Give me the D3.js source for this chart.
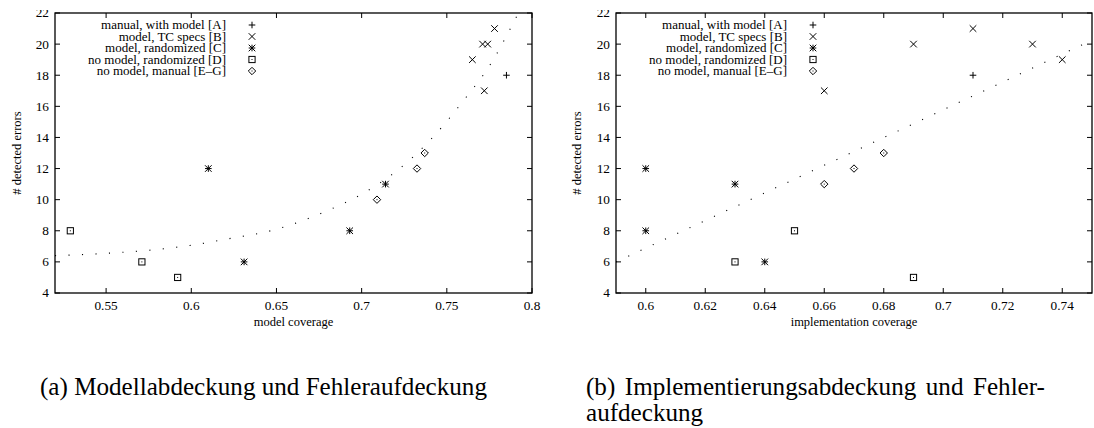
<!DOCTYPE html>
<html>
<head>
<meta charset="utf-8">
<script src="https://cdn.jsdelivr.net/npm/d3@7"></script>
<style>
  body { margin: 0; background: #fff; }
  svg { display: block; }
  text { font-family: "Liberation Serif", "DejaVu Serif", serif; }
</style>
</head>
<body>
<div id="plots"></div>
<script>
// Two scatter plots of detected errors against coverage, with fit curves.

// ---- data ----
const legendLabels = ["manual, with model [A]", "model, TC specs [B]", "model, randomized [C]",
    "no model, randomized [D]", "no model, manual [E\u2013G]"];
const legendSymbols = ["plus", "cross", "star", "square", "diamond"];

// (a) model coverage
const modelA = [[0.785, 18]];
const modelB = [[0.778, 21], [0.771, 20], [0.774, 20], [0.765, 19], [0.772, 17]];
const modelC = [[0.61, 12], [0.631, 6], [0.693, 8], [0.714, 11]];
const modelD = [[0.529, 8], [0.571, 6], [0.592, 5]];
const modelEG = [[0.709, 10], [0.7325, 12], [0.737, 13]];
const modelFit = [[0.52, 6.4], [0.55, 6.55], [0.58, 6.8], [0.60, 7.07], [0.62, 7.45], [0.65, 8.1],
    [0.68, 9.3], [0.70, 10.35], [0.72, 11.8], [0.74, 13.8], [0.76, 16.4], [0.775, 18.6], [0.792, 22]];
const modelTicks = [0.55, 0.6, 0.65, 0.7, 0.75, 0.8];

// (b) implementation coverage
const implA = [[0.71, 18]];
const implB = [[0.71, 21], [0.69, 20], [0.73, 20], [0.74, 19], [0.66, 17]];
const implC = [[0.6, 12], [0.6, 8], [0.63, 11], [0.64, 6]];
const implD = [[0.63, 6], [0.65, 8], [0.69, 5]];
const implEG = [[0.66, 11], [0.67, 12], [0.68, 13]];
const implFit = [[0.59, 6.0], [0.67, 13.1], [0.75, 20.25]];
const implTicks = [0.6, 0.62, 0.64, 0.66, 0.68, 0.7, 0.72, 0.74];

const yTicks = [4, 6, 8, 10, 12, 14, 16, 18, 20, 22];

const captionA = "(a) Modellabdeckung und Fehleraufdeckung";
const captionB1 = "(b) Implementierungsabdeckung und Fehler-";
const captionB2 = "aufdeckung";

// ---- page ----
const W = 1094, H = 428;

const svg = d3.select("#plots").append("svg")
    .attr("width", W).attr("height", H);

svg.append("rect").attr("width", W).attr("height", H).attr("fill", "#fff");

// the original figure is cut off a little at the top
svg.append("clipPath").attr("id", "pageclip")
    .append("rect").attr("x", 0).attr("y", 10).attr("width", W).attr("height", H - 10);

// draw one marker of the given kind at (x,y)
function drawMarker(g, kind, x, y) {
    const s = 3.3;
    let el;
    if (kind == "plus") {
        el = g.append("path").attr("d", `M${x - s},${y}H${x + s}M${x},${y - s}V${y + s}`);
    } else if (kind == "cross") {
        el = g.append("path").attr("d", `M${x - s},${y - s}L${x + s},${y + s}M${x - s},${y + s}L${x + s},${y - s}`);
    } else if (kind == "star") {
        el = g.append("path").attr("d", `M${x - s},${y}H${x + s}M${x},${y - s}V${y + s}` +
            `M${x - s},${y - s}L${x + s},${y + s}M${x - s},${y + s}L${x + s},${y - s}`);
    } else if (kind == "square") {
        el = g.append("rect").attr("x", x - s + 0.2).attr("y", y - s + 0.2)
            .attr("width", 2 * s - 0.4).attr("height", 2 * s - 0.4);
        g.append("rect").attr("x", x - 0.5).attr("y", y - 0.5).attr("width", 1).attr("height", 1).attr("fill", "#000");
    } else if (kind == "diamond") {
        const d = s + 0.4;
        el = g.append("path").attr("d", `M${x},${y - d}L${x + d},${y}L${x},${y + d}L${x - d},${y}Z`);
        g.append("rect").attr("x", x - 0.5).attr("y", y - 0.5).attr("width", 1).attr("height", 1).attr("fill", "#000");
    }
    el.attr("stroke", "#000").attr("stroke-width", 1).attr("fill", "none");
}

// one gnuplot-style panel
function drawPanel(opt) {
    const g = svg.append("g").attr("clip-path", "url(#pageclip)");
    const left = opt.left, right = opt.right, top = 13, bottom = 293;

    const x = d3.scaleLinear().domain(opt.xDomain).range([left, right]);
    const y = d3.scaleLinear().domain([4, 22]).range([bottom, top]);
    const tl = 5;

    // ticks on all four sides, pointing inward
    const ticks = g.append("g").attr("stroke", "#000").attr("stroke-width", 1);
    opt.xTicks.forEach(function (t) {
        ticks.append("line").attr("x1", x(t)).attr("x2", x(t)).attr("y1", bottom).attr("y2", bottom - tl);
        ticks.append("line").attr("x1", x(t)).attr("x2", x(t)).attr("y1", top).attr("y2", top + tl);
    });
    yTicks.forEach(function (t) {
        ticks.append("line").attr("x1", left).attr("x2", left + tl).attr("y1", y(t)).attr("y2", y(t));
        ticks.append("line").attr("x1", right).attr("x2", right - tl).attr("y1", y(t)).attr("y2", y(t));
    });

    // tick labels
    g.selectAll(null).data(opt.xTicks).join("text")
        .attr("x", d => x(d)).attr("y", bottom + 17)
        .attr("text-anchor", "middle").attr("font-size", 13.3)
        .text(d => String(d));
    g.selectAll(null).data(yTicks).join("text")
        .attr("x", left - 6).attr("y", d => y(d)).attr("dy", "0.33em")
        .attr("text-anchor", "end").attr("font-size", 13.3)
        .text(d => String(d));

    // axis labels
    g.append("text").attr("x", (left + right) / 2).attr("y", 326)
        .attr("text-anchor", "middle").attr("font-size", 12.5).text(opt.xLabel);
    g.append("text")
        .attr("transform", `translate(${opt.yLabelX},${(top + bottom) / 2}) rotate(-90)`)
        .attr("text-anchor", "middle").attr("dy", "0.33em").attr("font-size", 12.5)
        .text("# detected errors");

    // fit curve, dotted, clipped to the plot area
    const cid = "clip" + opt.id;
    g.append("clipPath").attr("id", cid).append("rect")
        .attr("x", left).attr("y", top).attr("width", right - left).attr("height", bottom - top);
    const line = d3.line().x(d => x(d[0])).y(d => y(d[1])).curve(d3.curveMonotoneX);
    g.append("path")
        .attr("clip-path", `url(#${cid})`)
        .attr("d", line(opt.fit))
        .attr("fill", "none").attr("stroke", "#000").attr("stroke-width", 1.1)
        .attr("stroke-dasharray", "1.1 12.4");

    // points
    const pts = g.append("g").attr("clip-path", `url(#${cid})`);
    opt.series.forEach(function (ser, i) {
        ser.forEach(function (p) {
            drawMarker(pts, legendSymbols[i], x(p[0]), y(p[1]));
        });
    });

    // legend
    legendLabels.forEach(function (lab, i) {
        const ly = top + 12 + i * 11.5;
        g.append("text").attr("x", left + 171).attr("y", ly).attr("dy", "0.33em")
            .attr("text-anchor", "end").attr("font-size", 13).text(lab);
        drawMarker(g, legendSymbols[i], left + 197, ly);
    });

    // border
    g.append("rect").attr("x", left).attr("y", top)
        .attr("width", right - left).attr("height", bottom - top)
        .attr("fill", "none").attr("stroke", "#000").attr("stroke-width", 1.3);
}

drawPanel({
    id: "a", left: 55, right: 532, xDomain: [0.52, 0.8], xTicks: modelTicks,
    xLabel: "model coverage", yLabelX: 17, fit: modelFit,
    series: [modelA, modelB, modelC, modelD, modelEG]
});
drawPanel({
    id: "b", left: 616, right: 1092, xDomain: [0.59, 0.75], xTicks: implTicks,
    xLabel: "implementation coverage", yLabelX: 577, fit: implFit,
    series: [implA, implB, implC, implD, implEG]
});

// ---- captions ----
const capA = svg.append("text").attr("x", 40).attr("y", 395).attr("font-size", 20).text(captionA);
// size the caption font to the width seen in the picture
const capSize = 20 * 447 / capA.node().getComputedTextLength();
capA.attr("font-size", capSize);

const capB = svg.append("text").attr("x", 586).attr("y", 395).attr("font-size", capSize).text(captionB1);
// justify the first line of caption (b)
const extra = 459 - capB.node().getComputedTextLength();
capB.attr("word-spacing", extra / 3);
svg.append("text").attr("x", 586).attr("y", 421).attr("font-size", capSize).text(captionB2);
</script>
</body>
</html>
